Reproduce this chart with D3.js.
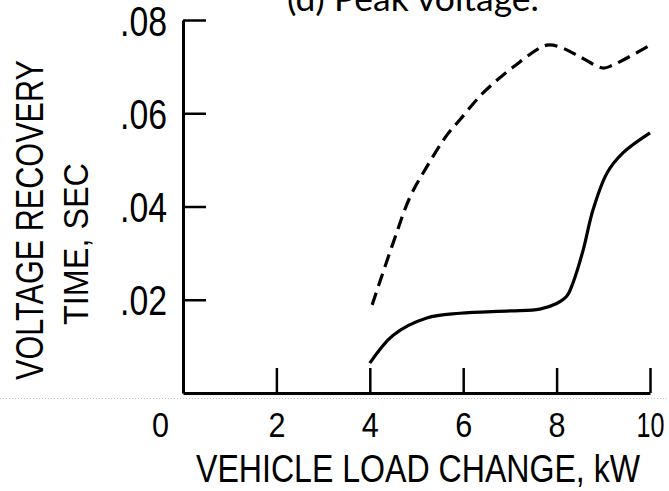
<!DOCTYPE html>
<html>
<head>
<meta charset="utf-8">
<script src="https://cdn.jsdelivr.net/npm/d3@7"></script>
<style>
  html, body { margin: 0; padding: 0; background: #fff; }
  svg { display: block; }
  .lbl { font-family: "Liberation Sans", Arial, sans-serif; fill: #000; }
</style>
</head>
<body>
<svg id="chart" width="669" height="491"></svg>
<script>
// Vehicle load change (kW) vs. voltage recovery time (s)
const dashedLoad = [4.05, 4.5, 4.86, 5.22, 5.65, 5.93, 6.42, 7.07, 7.79, 8.07, 8.5, 8.99, 9.2, 10.0];
const dashedTime = [0.0189, 0.0322, 0.0420, 0.0485, 0.0553, 0.0586, 0.0643, 0.0699, 0.0746, 0.0742, 0.0721, 0.0697, 0.0703, 0.0746];

const solidLoad = [4.0, 4.5, 5.22, 5.93, 7.0, 7.64, 8.0, 8.22, 8.35, 8.57, 8.78, 9.08, 9.42, 10.0];
const solidTime = [0.0064, 0.0124, 0.0161, 0.0171, 0.0176, 0.0180, 0.0192, 0.0208, 0.0236, 0.0307, 0.0393, 0.0472, 0.0515, 0.0558];

const xTicks = [0, 2, 4, 6, 8, 10];
const yTicks = [0.02, 0.04, 0.06, 0.08];

const titleText = "(d) Peak voltage.";
const xTitle = "VEHICLE LOAD CHANGE, kW";
const yTitle1 = "VOLTAGE RECOVERY";
const yTitle2 = "TIME, SEC";

const svg = d3.select("#chart");

const x = d3.scaleLinear().domain([0, 10]).range([183, 650]);
const y = d3.scaleLinear().domain([0, 0.08]).range([393, 20]);

// faint dotted rule under the axis
svg.append("line")
  .attr("x1", 0).attr("x2", 669).attr("y1", 398.5).attr("y2", 398.5)
  .attr("stroke", "#c4c4c4").attr("stroke-width", 1).attr("stroke-dasharray", "1,2");

// y axis: ticks point into the plot, labels on the left
const yAxis = svg.append("g")
  .attr("transform", `translate(${x(0)},0)`)
  .call(d3.axisLeft(y).tickValues(yTicks).tickSize(-23).tickSizeOuter(0).tickPadding(16)
    .tickFormat(d => d3.format(".2f")(d).replace(/^0/, "")));

// x axis: ticks point up into the plot
const xAxis = svg.append("g")
  .attr("transform", `translate(0,${y(0)})`)
  .call(d3.axisBottom(x).tickValues(xTicks).tickSize(-25).tickSizeOuter(0).tickPadding(19)
    .tickFormat(d3.format("d")));

[xAxis, yAxis].forEach(g => {
  g.select(".domain").attr("stroke", "#000").attr("stroke-width", 3);
  g.selectAll(".tick line").attr("stroke", "#000").attr("stroke-width", 2.5);
  g.selectAll(".tick text").attr("class", "lbl").attr("fill", "#000");
});
// condensed numerals
yAxis.selectAll(".tick text").style("font-size", "42px").attr("dy", "15px")
  .attr("textLength", 47).attr("lengthAdjust", "spacingAndGlyphs");
xAxis.selectAll(".tick text").style("font-size", "35px")
  .attr("textLength", d => d >= 10 ? 28 : 17).attr("lengthAdjust", "spacingAndGlyphs");
// origin label sits left of the corner, without a tick mark
xAxis.selectAll(".tick").filter(d => d === 0).each(function () {
  d3.select(this).select("line").remove();
  d3.select(this).select("text").attr("x", -23);
});

// curves
const line = d3.line()
  .x(d => x(d[0]))
  .y(d => y(d[1]))
  .curve(d3.curveCatmullRom.alpha(0.5));

svg.append("path")
  .datum(d3.zip(dashedLoad, dashedTime))
  .attr("d", line)
  .attr("fill", "none").attr("stroke", "#000").attr("stroke-width", 3.2)
  .attr("stroke-dasharray", "13,7");

svg.append("path")
  .datum(d3.zip(solidLoad, solidTime))
  .attr("d", line)
  .attr("fill", "none").attr("stroke", "#000").attr("stroke-width", 3.2);

// titles
svg.append("text").attr("class", "lbl")
  .attr("x", 418).attr("y", 482).attr("text-anchor", "middle")
  .style("font-size", "38px")
  .attr("textLength", 444).attr("lengthAdjust", "spacingAndGlyphs")
  .text(xTitle);

svg.append("text").attr("class", "lbl")
  .attr("transform", "translate(43,220) rotate(-90)")
  .attr("text-anchor", "middle")
  .style("font-size", "39px")
  .attr("textLength", 320).attr("lengthAdjust", "spacingAndGlyphs")
  .text(yTitle1);

svg.append("text").attr("class", "lbl")
  .attr("transform", "translate(88,244) rotate(-90)")
  .attr("text-anchor", "middle")
  .style("font-size", "35px")
  .attr("textLength", 162).attr("lengthAdjust", "spacingAndGlyphs")
  .text(yTitle2);

svg.append("text")
  .attr("x", 413).attr("y", 11).attr("text-anchor", "middle")
  .style("font-family", "Lato, 'Open Sans', sans-serif")
  .style("font-size", "34px").attr("fill", "#000")
  .attr("textLength", 252).attr("lengthAdjust", "spacingAndGlyphs")
  .text(titleText);
</script>
</body>
</html>
